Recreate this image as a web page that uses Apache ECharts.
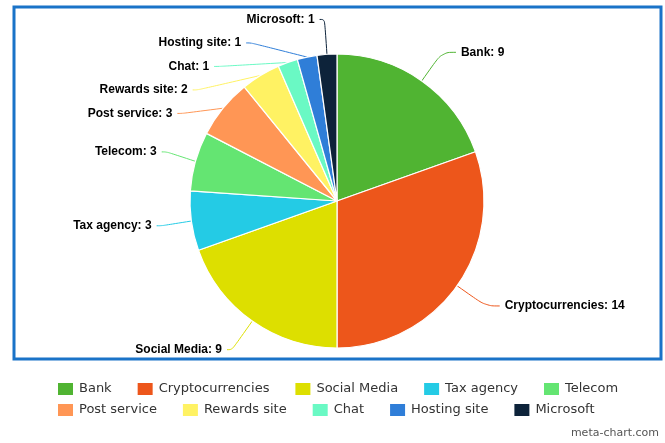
<!DOCTYPE html>
<html>
<head>
<meta charset="utf-8">
<script src="https://cdn.jsdelivr.net/npm/echarts@6/dist/echarts.min.js"></script>
<style>
  html, body { margin: 0; padding: 0; background: #fff; }
  #chart { width: 665px; height: 443px; }
</style>
</head>
<body>
<div id="chart"></div>
<script>
// Reported sources, counted per category
const categories = ['Bank', 'Cryptocurrencies', 'Social Media', 'Tax agency', 'Telecom',
  'Post service', 'Rewards site', 'Chat', 'Hosting site', 'Microsoft'];
const counts = [9, 14, 9, 3, 3, 3, 2, 1, 1, 1];
const palette = ['#50B432', '#ED561B', '#DDDF00', '#24CBE5', '#64E572',
  '#FF9655', '#FFF263', '#6AF9C4', '#2f7ed8', '#0d233a'];

const chart = echarts.init(document.getElementById('chart'), null, { renderer: 'canvas' });

// Legend is split over two rows of five entries
const legendBase = {
  left: 51,
  orient: 'horizontal',
  itemWidth: 17,
  itemHeight: 14,
  itemGap: 24,
  icon: 'rect',
  textStyle: { fontFamily: 'DejaVu Sans', fontSize: 13, color: '#333' }
};

// Slices whose middle falls on the left half get a shorter elbow
const total = counts.reduce((a, b) => a + b, 0);
let acc = 0;
const pieData = categories.map((name, i) => {
  const mid = (acc + counts[i] / 2) / total;
  acc += counts[i];
  const onLeft = mid > 0.5;
  return {
    name,
    value: counts[i],
    labelLine: { length2: onLeft ? 5 : 14 }
  };
});

chart.setOption({
  animation: false,
  color: palette,
  legend: [
    Object.assign({}, legendBase, { top: 376, data: categories.slice(0, 5) }),
    Object.assign({}, legendBase, { top: 397, data: categories.slice(5) })
  ],
  graphic: [
    {
      type: 'rect',
      shape: { x: 14, y: 7, width: 647, height: 352 },
      style: { fill: 'none', stroke: '#1a73c8', lineWidth: 3 },
      z: 0
    },
    {
      type: 'text',
      right: 6,
      bottom: 4,
      style: { text: 'meta-chart.com', fill: '#555', font: '11px "DejaVu Sans"' }
    }
  ],
  series: [{
    type: 'pie',
    center: [337, 201],
    radius: [0, 147],
    startAngle: 90,
    clockwise: true,
    itemStyle: { borderColor: '#fff', borderWidth: 1.2 },
    label: {
      show: true,
      formatter: '{b}: {c}',
      fontFamily: 'Liberation Sans',
      fontWeight: 'bold',
      fontSize: 12,
      lineHeight: 17.5,
      padding: [4, 0, 0, 0],
      color: '#000'
    },
    labelLine: { show: true, length: 35, length2: 14, smooth: 0.4, lineStyle: { width: 1 } },
    data: pieData
  }]
});
</script>
</body>
</html>
